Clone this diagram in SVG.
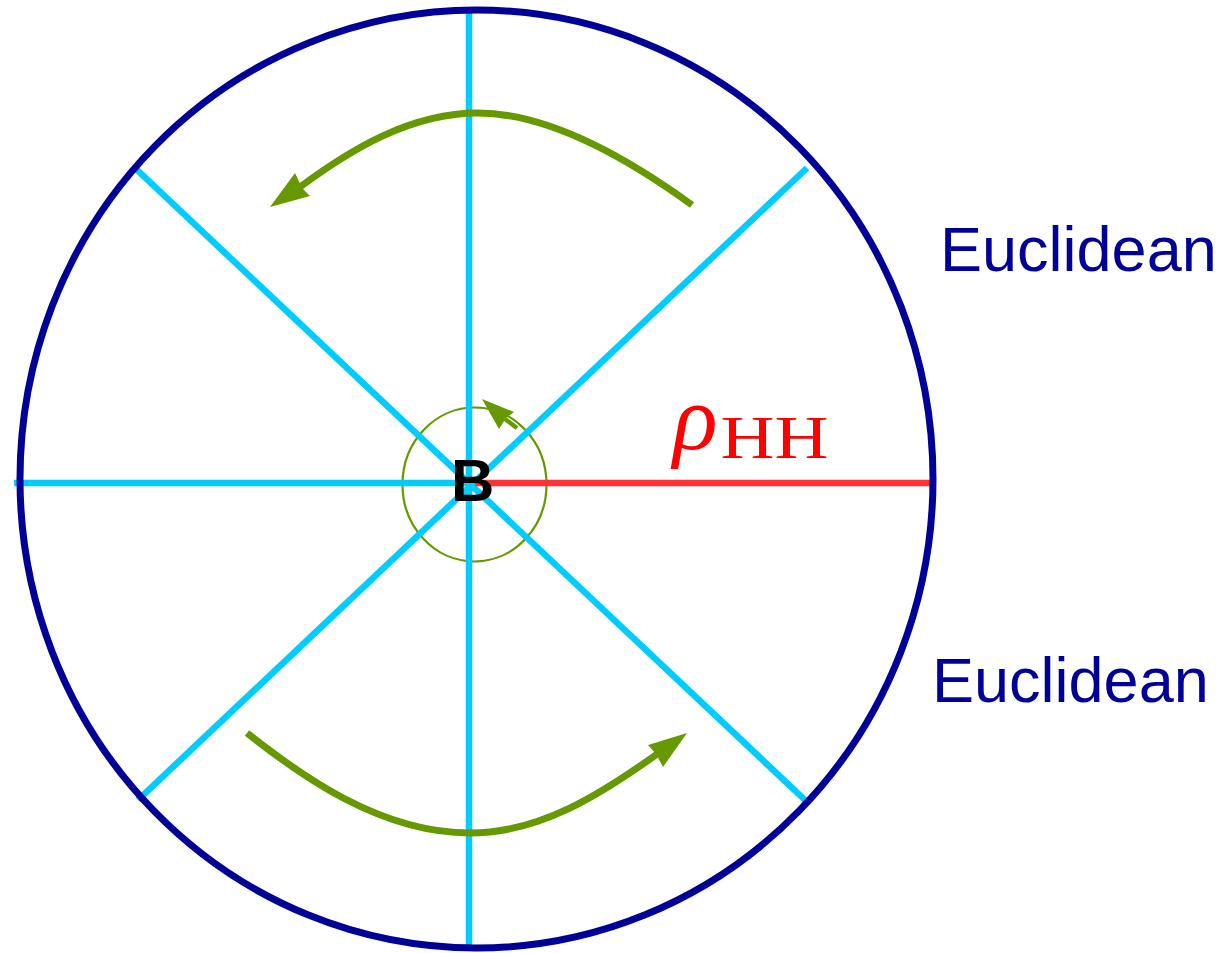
<svg xmlns="http://www.w3.org/2000/svg" width="1221" height="953" viewBox="0 0 1221 953">
<style>
.spoke{stroke:#00CCFF;stroke-width:6.5;fill:none}
.rot{stroke:#669900;stroke-width:7;fill:none}
.head{fill:#669900}
.lbl{font-family:"Liberation Sans",Arial,sans-serif;font-size:63px;fill:#000099}
</style>
<rect width="1221" height="953" fill="#ffffff"/>
<g id="small-circle">
<ellipse cx="474.5" cy="484.5" rx="72" ry="77" fill="none" stroke="#669900" stroke-width="2.2"/>
<line x1="505" y1="419" x2="517" y2="428" stroke="#669900" stroke-width="4.5"/>
<polygon class="head" points="482,399 514,412 506,418 499,429"/>
</g>
<g id="connectors">
<line class="spoke" x1="469" y1="10" x2="469" y2="948"/>
<line class="spoke" x1="14" y1="483" x2="475" y2="483"/>
<line class="spoke" x1="135" y1="168" x2="805" y2="800"/>
<line class="spoke" x1="807" y1="168" x2="138" y2="800"/>
<line x1="475" y1="483" x2="932" y2="483" stroke="#FF3333" stroke-width="6.5"/>
</g>
<g id="outer-boundary">
<ellipse cx="476.5" cy="479" rx="456.5" ry="469" fill="none" stroke="#000099" stroke-width="7"/>
</g>
<g id="top-rotation">
<path class="rot" d="M692,205 C630,160 550,113 478,113 C410,113 350,150 300,187"/>
<polygon class="head" points="270,207 295,173 302,188 310,196"/>
</g>
<g id="bottom-rotation">
<path class="rot" d="M247,733 C300,775 380,833 470,833 C540,833 600,795 660,752"/>
<polygon class="head" points="687,733 648,745 656,754 663,767"/>
</g>
<g id="label-B">
<text x="451" y="501" font-family="Liberation Sans,Arial,sans-serif" font-weight="bold" font-size="60" fill="#000000">B</text>
</g>
<g id="label-rho">
<text x="673" y="449" font-family="Liberation Serif,Times New Roman,serif" font-style="italic" font-size="93" fill="#FF0000">ρ</text>
<text x="720.6" y="458" font-family="Liberation Serif,Times New Roman,serif" font-size="62" textLength="108" lengthAdjust="spacingAndGlyphs" fill="#FF0000">HH</text>
</g>
<g id="label-euclidean-top">
<text class="lbl" x="940" y="271">Euclidean</text>
</g>
<g id="label-euclidean-bottom">
<text class="lbl" x="932" y="702">Euclidean</text>
</g>
</svg>
